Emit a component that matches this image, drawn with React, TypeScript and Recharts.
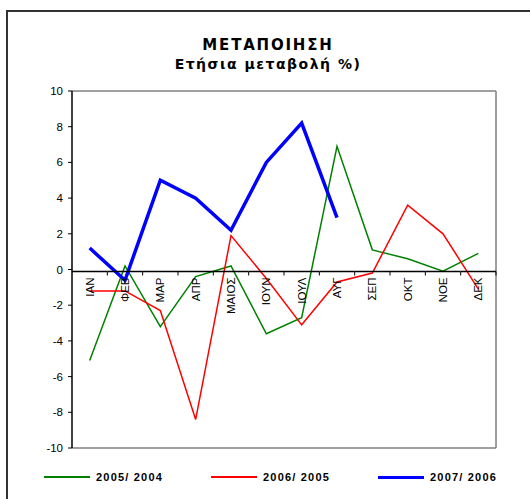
import React from 'react'
import { LineChart, Line, XAxis, YAxis } from 'recharts'

const months = ['ΙΑΝ', 'ΦΕΒ', 'ΜΑΡ', 'ΑΠΡ', 'ΜΑΙΟΣ', 'ΙΟΥΝ', 'ΙΟΥΛ', 'ΑΥΓ', 'ΣΕΠ', 'ΟΚΤ', 'ΝΟΕ', 'ΔΕΚ']
const y2005 = [-5.1, 0.2, -3.2, -0.4, 0.2, -3.6, -2.7, 6.9, 1.1, 0.6, -0.1, 0.9]
const y2006 = [-1.2, -1.2, -2.3, -8.4, 1.9, -0.5, -3.1, -0.7, -0.2, 3.6, 2.0, -1.1]
const y2007 = [1.2, -0.6, 5.0, 4.0, 2.2, 6.0, 8.2, 2.9, null, null, null, null]
const yTicks = [-10, -8, -6, -4, -2, 0, 2, 4, 6, 8, 10]

const series = [
  { key: 'a', name: '2005/ 2004', color: '#008000', width: 1.5 },
  { key: 'b', name: '2006/ 2005', color: '#ff0000', width: 1.5 },
  { key: 'c', name: '2007/ 2006', color: '#0000ff', width: 3.5 },
]

const data = months.map((m, i) => ({ m, a: y2005[i], b: y2006[i], c: y2007[i] }))

const W = 530
const H = 499
// axes of size 1 frame the plot (an axis of size 0 is not drawn)
const M = { top: 90, right: 33, bottom: 50, left: 0 }
const Y_W = 72
const PLOT_W = W - M.left - M.right - Y_W - 1
const PLOT_H = H - M.top - M.bottom - 2
const BAND = PLOT_W / months.length
const FONT = '"Liberation Sans", Arial, sans-serif'

// x labels sit on the zero line, not at the bottom of the plot
const MonthTick = ({ x, y, payload }: any) => {
  const zeroY = y - PLOT_H * (10 / 20)
  return (
    <g>
      <line x1={x - BAND / 2} x2={x + BAND / 2} y1={zeroY} y2={zeroY} stroke="#000" strokeWidth={1.5} />
      <line x1={x + BAND / 2} x2={x + BAND / 2} y1={zeroY} y2={zeroY + 4} stroke="#000" />
      <text
        x={x}
        y={zeroY + 6}
        dy="0.36em"
        transform={`rotate(-90, ${x}, ${zeroY + 6})`}
        textAnchor="end"
        fontSize={11.5}
        fontFamily={FONT}
        fill="#000"
      >
        {payload.value}
      </text>
    </g>
  )
}

export default function App() {
  return (
    <div style={{ position: 'absolute', left: 0, top: 0, width: W, height: H, overflow: 'hidden', background: '#fff' }}>
      <div
        style={{
          position: 'absolute', left: 6, top: 10, width: 560, height: 540,
          border: '2px solid #333', boxSizing: 'border-box',
        }}
      />
      <div style={{ position: 'absolute', left: 0, width: 536, top: 35, textAlign: 'center', fontFamily: '"DejaVu Sans", sans-serif', fontWeight: 'bold', color: '#000' }}>
        <div style={{ fontSize: 15, letterSpacing: 1.8, lineHeight: '20px' }}>ΜΕΤΑΠΟΙΗΣΗ</div>
        <div style={{ fontSize: 14, letterSpacing: 1.5, lineHeight: '19px' }}>Ετήσια μεταβολή %)</div>
      </div>
      <div style={{ position: 'absolute', left: 0, top: 0 }}>
        <LineChart width={W} height={H} data={data} margin={M}>
          <XAxis
            dataKey="m"
            height={1}
            interval={0}
            tickSize={0}
            tickLine={false}
            axisLine={{ stroke: '#808080', strokeWidth: 1.5 }}
            padding={{ left: BAND / 2, right: BAND / 2 }}
            tick={<MonthTick />}
          />
          <XAxis xAxisId="top" dataKey="m" orientation="top" height={1} tick={false} tickLine={false} axisLine={{ stroke: '#808080', strokeWidth: 1.5 }} />
          <YAxis
            width={Y_W}
            domain={[-10, 10]}
            ticks={yTicks}
            interval={0}
            tickSize={4}
            tickMargin={5}
            axisLine={{ stroke: '#000', strokeWidth: 1.5 }}
            tickLine={{ stroke: '#000' }}
            tick={{ fill: '#000', fontSize: 11.5, fontFamily: FONT }}
          />
          <YAxis yAxisId="right" orientation="right" width={1} domain={[-10, 10]} tick={false} tickLine={false} axisLine={{ stroke: '#808080', strokeWidth: 1.5 }} />
          {series.map((s) => (
            <Line
              key={s.key}
              dataKey={s.key}
              name={s.name}
              stroke={s.color}
              strokeWidth={s.width}
              dot={false}
              activeDot={false}
              type="linear"
              connectNulls={false}
              isAnimationActive={false}
            />
          ))}
        </LineChart>
      </div>
      {series.map((s, i) => (
        <div key={s.key} style={{ position: 'absolute', left: 44 + i * 167, top: 470, height: 14, display: 'flex', alignItems: 'center', fontFamily: FONT, fontWeight: 'bold', fontSize: 11, letterSpacing: 1.2 }}>
          <div style={{ width: 46, height: s.width > 2 ? 3 : 2, background: s.color, marginRight: 6 }} />
          <span>{s.name}</span>
        </div>
      ))}
    </div>
  )
}
